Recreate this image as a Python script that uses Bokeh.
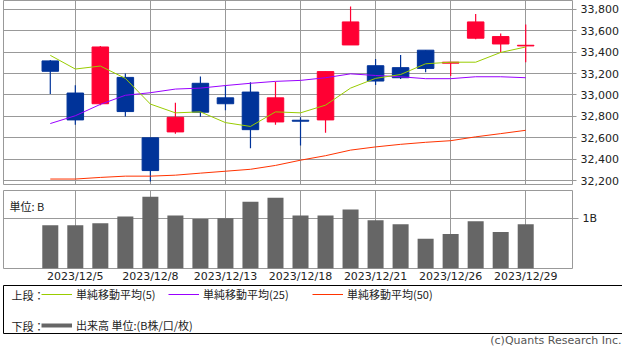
from bokeh.plotting import figure
from bokeh.models import (FixedTicker, NumeralTickFormatter, Label, Legend,
                          LegendItem, Range1d, ColumnDataSource)
from bokeh.layouts import column
from bokeh.embed import file_html
from bokeh.resources import INLINE

# ---------------- data ----------------
dates = ["2023/12/4", "2023/12/5", "2023/12/6", "2023/12/7", "2023/12/8",
         "2023/12/11", "2023/12/12", "2023/12/13", "2023/12/14", "2023/12/15",
         "2023/12/18", "2023/12/19", "2023/12/20", "2023/12/21", "2023/12/22",
         "2023/12/25", "2023/12/26", "2023/12/27", "2023/12/28", "2023/12/29"]
opens = [33318, 33018, 32918, 33164, 32600, 32655, 33109, 32973, 33027, 32748,
         32764, 32767, 33467, 33273, 33255, 33418, 33297, 33530, 33476, 33458]
highs = [33327, 33091, 33458, 33200, 32600, 32927, 33173, 33088, 33118, 33124,
         32791, 33218, 33827, 33336, 33373, 33418, 33306, 33755, 33573, 33658]
lows = [33009, 32721, 32903, 32800, 32191, 32639, 32797, 32858, 32503, 32721,
        32527, 32648, 33467, 33094, 33148, 33212, 33176, 33521, 33397, 33306]
closes = [33221, 32767, 33448, 32845, 32294, 32791, 32839, 32918, 32676, 32973,
          32755, 33218, 33682, 33130, 33161, 33248, 33306, 33682, 33545, 33464]
ma5 = [33370, 33242, 33270, 33155, 32915, 32833, 32842, 32742, 32706, 32842,
       32833, 32905, 33064, 33155, 33191, 33291, 33306, 33306, 33397, 33448]
ma25 = [32733, 32806, 32912, 32997, 33021, 33055, 33064, 33088, 33109, 33127,
        33136, 33161, 33197, 33182, 33170, 33152, 33152, 33170, 33170, 33161]
ma50 = [32215, 32215, 32230, 32242, 32242, 32251, 32270, 32288, 32306, 32342,
        32391, 32433, 32485, 32515, 32539, 32558, 32573, 32609, 32639, 32670]
volume = [0.864, 0.864, 0.903, 1.039, 1.429, 1.058, 0.987, 1.000, 1.331, 1.409,
          1.058, 1.058, 1.175, 0.961, 0.883, 0.591, 0.688, 0.942, 0.727, 0.883]
price_ticks = [32200, 32400, 32600, 32800, 33000, 33200, 33400, 33600, 33800]
date_ticks = [1, 4, 7, 10, 13, 16, 19]
volume_ticks = [1]
volume_tick_labels = {1: "1B"}

UP = "#ff0033"
DOWN = "#003399"
GRID = "#999999"
TXT = "#222222"
NUM_FONT = "DejaVu Sans"
JP_FONT = "Noto Sans CJK JP"
NAN = float("nan")

xs = list(range(len(dates)))
src = ColumnDataSource(dict(
    x=xs, open=opens, high=highs, low=lows, close=closes,
    top=[max(o, c) for o, c in zip(opens, closes)],
    bottom=[min(o, c) for o, c in zip(opens, closes)],
    color=[UP if c >= o else DOWN for o, c in zip(opens, closes)],
    ma5=ma5, ma25=ma25, ma50=ma50, vol=volume,
))

x_range = Range1d(-1.87, 20.87)

# ---------------- price panel ----------------
p1 = figure(frame_width=569, frame_height=184, x_range=x_range,
            y_range=Range1d(32164, 33882), y_axis_location="right",
            output_backend="svg", toolbar_location=None,
            min_border_left=3, min_border_top=0, min_border_bottom=3,
            min_border_right=50)
p1.xaxis.visible = False
p1.xaxis.ticker = FixedTicker(ticks=date_ticks)
p1.xgrid.ticker = FixedTicker(ticks=date_ticks)
p1.yaxis.ticker = FixedTicker(ticks=price_ticks)
p1.ygrid.ticker = FixedTicker(ticks=price_ticks)
for g in (p1.xgrid, p1.ygrid):
    g.grid_line_color = GRID
    g.grid_line_width = 1
p1.outline_line_color = GRID
p1.yaxis.formatter = NumeralTickFormatter(format="0,0")
p1.yaxis.axis_line_color = None
p1.yaxis.major_tick_in = 0
p1.yaxis.major_tick_out = 4
p1.yaxis.major_tick_line_color = GRID
p1.yaxis.minor_tick_line_color = None
p1.yaxis.major_label_standoff = 4
p1.yaxis.major_label_text_font = NUM_FONT
p1.yaxis.major_label_text_font_size = "11px"
p1.yaxis.major_label_text_color = TXT

p1.segment(x0="x", y0="low", x1="x", y1="high", source=src,
           line_color="color", line_width=1.2)
p1.vbar(x="x", top="top", bottom="bottom", width=0.66, source=src,
        fill_color="color", line_color="color", line_width=1)
p1.line("x", "ma50", source=src, line_color="#ff3300", line_width=1)
p1.line("x", "ma25", source=src, line_color="#9900ff", line_width=1)
p1.line("x", "ma5", source=src, line_color="#99cc00", line_width=1)

# ---------------- volume panel ----------------
p2 = figure(frame_width=569, frame_height=78, x_range=x_range,
            y_range=Range1d(0, 1.555), y_axis_location="right",
            output_backend="svg", toolbar_location=None,
            min_border_left=3, min_border_top=3, min_border_bottom=0,
            min_border_right=50)
p2.xaxis.ticker = FixedTicker(ticks=date_ticks)
p2.xaxis.major_label_overrides = {t: dates[t] for t in date_ticks}
p2.xgrid.ticker = FixedTicker(ticks=date_ticks)
p2.yaxis.ticker = FixedTicker(ticks=volume_ticks)
p2.ygrid.ticker = FixedTicker(ticks=volume_ticks)
p2.yaxis.major_label_overrides = volume_tick_labels
for g in (p2.xgrid, p2.ygrid):
    g.grid_line_color = GRID
    g.grid_line_width = 1
p2.outline_line_color = GRID
for ax in (p2.xaxis, p2.yaxis):
    ax.axis_line_color = None
    ax.minor_tick_line_color = None
    ax.major_label_text_font = NUM_FONT
    ax.major_label_text_font_size = "11px"
    ax.major_label_text_color = TXT
p2.xaxis.major_tick_line_color = None
p2.xaxis.major_tick_in = 0
p2.xaxis.major_tick_out = 0
p2.xaxis.major_label_standoff = 1
p2.yaxis.major_tick_in = 0
p2.yaxis.major_tick_out = 6
p2.yaxis.major_tick_line_color = GRID
p2.yaxis.major_label_standoff = 4

p2.vbar(x="x", top="vol", width=0.64, source=src,
        fill_color="#666666", line_color=None)
p2.add_layout(Label(x=6, y=63, x_units="screen", y_units="screen",
                    text="単位: B", text_font=JP_FONT, text_font_size="11px",
                    text_color=TXT, text_baseline="middle"))

# ---------------- legend box ----------------
p3 = figure(frame_width=622, frame_height=49, x_range=Range1d(0, 1),
            y_range=Range1d(0, 1), x_axis_location=None, y_axis_location=None,
            output_backend="svg", toolbar_location=None,
            min_border_left=0, min_border_top=0, min_border_bottom=0,
            min_border_right=0)
p3.xgrid.visible = False
p3.ygrid.visible = False
p3.outline_line_color = "#000000"
p3.outline_line_width = 1

# legend-only renderers (no visible data)
d5 = p3.line(x=[NAN], y=[NAN], line_color="#99cc00", line_width=1)
d25 = p3.line(x=[NAN], y=[NAN], line_color="#9900ff", line_width=1)
d50 = p3.line(x=[NAN], y=[NAN], line_color="#ff3300", line_width=1)
dv = p3.line(x=[NAN], y=[NAN], line_color="#666666", line_width=4)


def make_legend(label, rend, loc):
    return Legend(items=[LegendItem(label=label, renderers=[rend])],
                  location=loc, orientation="horizontal",
                  glyph_width=31, glyph_height=16, label_height=16,
                  label_standoff=4, padding=0, margin=0, spacing=0,
                  border_line_color=None, background_fill_alpha=0,
                  label_text_font=JP_FONT, label_text_font_size="11px",
                  label_text_color=TXT)


p3.add_layout(make_legend("単純移動平均(5)", d5, (41, 32)))
p3.add_layout(make_legend("単純移動平均(25)", d25, (168, 32)))
p3.add_layout(make_legend("単純移動平均(50)", d50, (312, 32)))
p3.add_layout(make_legend("出来高 単位:(B株/口/枚)", dv, (41, 1)))
p3.add_layout(Label(x=8, y=40, x_units="screen", y_units="screen",
                    text="上段：", text_font=JP_FONT, text_font_size="11px",
                    text_color=TXT, text_baseline="middle"))
p3.add_layout(Label(x=8, y=9, x_units="screen", y_units="screen",
                    text="下段：", text_font=JP_FONT, text_font_size="11px",
                    text_color=TXT, text_baseline="middle"))

# ---------------- copyright ----------------
p4 = figure(frame_width=622, frame_height=12, x_range=Range1d(0, 1),
            y_range=Range1d(0, 1), x_axis_location=None, y_axis_location=None,
            output_backend="svg", toolbar_location=None,
            min_border_left=0, min_border_top=0, min_border_bottom=0,
            min_border_right=0)
p4.xgrid.visible = False
p4.ygrid.visible = False
p4.outline_line_color = None
p4.add_layout(Label(x=618, y=0, x_units="screen", y_units="screen",
                    text="(c)Quants Research Inc.", text_font=NUM_FONT,
                    text_font_size="11px", text_color="#555555",
                    text_align="right", text_baseline="bottom"))

layout = column(p1, p2, p3, p4, spacing=0)
open("out.html", "w").write(file_html(layout, INLINE))
